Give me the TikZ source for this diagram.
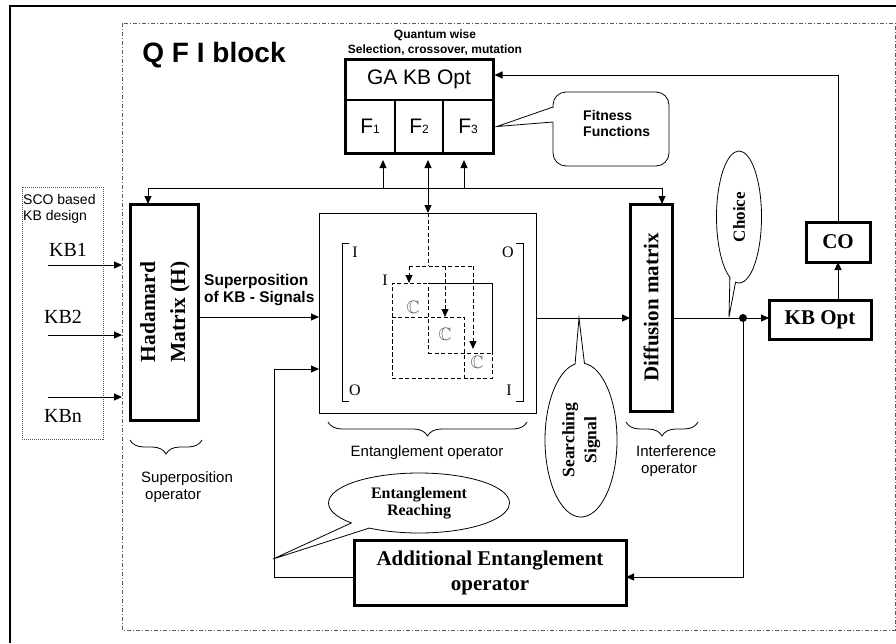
\documentclass[tikz,border=0pt]{standalone}
\usepackage{fontspec}
\setmainfont{Liberation Serif}
\setsansfont{Liberation Sans}
\usepackage{amssymb}
\usetikzlibrary{arrows.meta,shapes.callouts,decorations.pathreplacing,positioning}
\definecolor{cF}{rgb}{0.35,0.35,0.35}
\definecolor{cC}{rgb}{0.38,0.38,0.38}
\newcommand{\setfs}[2]{\fontsize{#1}{#2}\selectfont}
\tikzset{mytip/.tip={Triangle[length=8pt,width=7pt]}}
\tikzset{mybox/.style={
  shape=rectangle,
  draw=black,
  line width=3pt,
  inner sep=0pt,
  outer sep=0pt,
  font=\bfseries\setfs{21}{24},
  align=center,
  }
}
\tikzset{mycell/.style={
  shape=rectangle,
  draw=black,
  line width=1.2pt,
  inner sep=0pt,
  outer sep=0pt,
  font=\sffamily\setfs{21}{24},
  }
}
\tikzset{mycall/.style={
  shape=ellipse callout,
  draw=black,
  line width=0.8pt,
  inner sep=0pt,
  align=center,
  }
}
\tikzset{myarr/.style={
  draw=black,
  line width=1pt,
  -mytip,
  }
}
\tikzset{mydash/.style={
  draw=black,
  line width=1pt,
  dash pattern=on 4pt off 2.5pt,
  }
}
\tikzset{mylbl/.style={
  inner sep=0pt,
  font=\sffamily\setfs{15}{17},
  align=left,
  }
}
\tikzset{mymat/.style={
  inner sep=0pt,
  font=\setfs{16}{16},
  }
}
\tikzset{mybrace/.style={
  draw=black,
  line width=0.8pt,
  decorate,
  decoration={brace,amplitude=14pt},
  }
}
\begin{document}
\begin{tikzpicture}[x=1pt,y=-1pt]
  \useasboundingbox (0,0) rectangle (896,643);
  % frames
  \draw[line width=2pt] (10,643) -- (10,6) -- (896,6);
  \draw[cF, line width=1pt, dash pattern=on 4pt off 2pt on 1pt off 2pt] (122,23) rectangle (895,630);
  \draw[cF, line width=0.8pt, dash pattern=on 1pt off 1pt] (22,187) rectangle (103,439);

  \node[font=\sffamily\bfseries\setfs{28}{30}, inner sep=0pt] (title) at (214,55) {Q F I block};
  \node[font=\sffamily\bfseries\setfs{12}{15}, align=center, inner sep=0pt] (qw) at (435,43) {Quantum wise\\Selection, crossover, mutation};

  % GA block
  \node[mycell, minimum width=148pt, minimum height=41pt] (ga) at (419,79.5) {GA KB Opt};
  \node[mycell, minimum width=50pt, minimum height=53pt, anchor=north west] (f1) at (ga.south west) {F{\setfs{12}{12}1}};
  \node[mycell, minimum width=48pt, minimum height=53pt, anchor=north west] (f2) at (f1.north east) {F{\setfs{12}{12}2}};
  \node[mycell, minimum width=50pt, minimum height=53pt, anchor=north west] (f3) at (f2.north east) {F{\setfs{12}{12}3}};
  \draw[line width=3pt] (ga.north west) rectangle (f3.south east);

  \draw[line width=0.8pt, rounded corners=13pt] (553,92) rectangle (669,166);
  \fill[white] (552,107.5) rectangle (554.5,121.5);
  \draw[line width=0.8pt] (553,107) -- ([xshift=4pt]f3.east) -- (553,122);
  \node[font=\sffamily\bfseries\setfs{14}{16}, align=left, inner sep=0pt, anchor=west] (fit) at (583,123) {Fitness\\Functions};

  % inputs
  \node[font=\setfs{20}{22}, inner sep=0pt] (kb1) at (68,250) {KB1};
  \node[font=\setfs{20}{22}, inner sep=0pt] (kb2) at (63,317) {KB2};
  \node[font=\setfs{20}{22}, inner sep=0pt] (kbn) at (63,416) {KBn};
  \node[font=\sffamily\setfs{14}{16}, align=left, inner sep=0pt, anchor=north west] (sco) at (23,194) {SCO based\\KB design};
  \coordinate (k1a) at (48,265);
  \coordinate (k1b) at (122,265);
  \coordinate (k2a) at (48,335);
  \coordinate (k2b) at (122,335);
  \coordinate (kna) at (48,397);
  \coordinate (knb) at (122,397);
  \draw[myarr] (k1a) -- (k1b);
  \draw[myarr] (k2a) -- (k2b);
  \draw[myarr] (kna) -- (knb);

  % operators
  \node[mybox, minimum width=68pt, minimum height=216pt] (had) at (164,312) {\rotatebox{90}{\setfs{21.5}{30}\begin{tabular}{@{}c@{}}Hadamard\\Matrix (H)\end{tabular}}};
  \node[draw, line width=1pt, minimum width=217pt, minimum height=200pt, inner sep=0pt, outer sep=0pt] (ent) at (427.5,313) {};
  \node[mybox, minimum width=42pt, minimum height=207pt] (diff) at (651,307.5) {\rotatebox{90}{Diffusion matrix}};
  \node[mybox, minimum width=102pt, minimum height=39pt] (kbopt) at (820,319.5) {KB Opt};
  \node[mybox, minimum width=64pt, minimum height=40pt] (co) at (838,242) {CO};
  \node[mybox, minimum width=272pt, minimum height=65pt, font=\bfseries\setfs{21}{25}] (add) at (490,572.5) {Additional Entanglement\\operator};
  \node[circle, fill=black, inner sep=0pt, minimum size=8pt] (dot) at (743,318) {};

  % entanglement matrix
  \draw[line width=1pt] (349,243) -- (342,243) -- (342,401) -- (349,401);
  \draw[line width=1pt] (516,243) -- (523,243) -- (523,401) -- (516,401);
  \node[mymat] (m11) at (355,252) {I};
  \node[mymat] (m12) at (508,252) {O};
  \node[mymat] (m21) at (355,390) {O};
  \node[mymat] (m22) at (509,390) {I};
  \node[mymat] (mi) at (385,280) {I};
  \node[mydash, minimum width=100pt, minimum height=95pt, inner sep=0pt, outer sep=0pt] (cbig) at (442,330.5) {};
  \node[mydash, minimum width=64pt, minimum height=70pt, inner sep=0pt, outer sep=0pt] (cmid) at (460,318) {};
  \node[mydash, minimum width=72pt, minimum height=61pt, inner sep=0pt, outer sep=0pt] (clow) at (428,347.5) {};
  \node[mymat, text=cC, font=\setfs{18}{18}] (c1) at (413,307) {$\mathbb{C}$};
  \node[mymat, text=cC, font=\setfs{18}{18}] (c2) at (445,334) {$\mathbb{C}$};
  \node[mymat, text=cC, font=\setfs{18}{18}] (c3) at (477,362) {$\mathbb{C}$};

  % top bus
  \coordinate (busl) at (148,188);
  \coordinate (busr) at (662,188);
  \coordinate (u1) at (383,188);
  \coordinate (u2) at (428,188);
  \coordinate (u3) at (464,188);
  \draw[myarr] (busr) -- (busl) -- (busl |- had.north);
  \draw[myarr] (busr) -- (busr |- diff.north);
  \draw[myarr, shorten >=7pt] (u1) -- (u1 |- f1.south);
  \draw[myarr, shorten >=7pt] (u3) -- (u3 |- f3.south);
  \draw[myarr, mytip-mytip, shorten <=7pt] (u2 |- f2.south) -- (u2 |- ent.north);

  \coordinate (d0) at (428,266);
  \coordinate (d1) at (409,266);
  \coordinate (d2) at (445,266);
  \coordinate (d3) at (473,266);
  \draw[mydash] (u2 |- ent.north) -- (d0);
  \draw[mydash] (d1) -- (d3);
  \draw[mydash, -mytip] (d1) -- (d1 |- cbig.north);
  \draw[mydash, -mytip] (d2) -- (d2 |- clow.north);
  \draw[mydash, -mytip] (d3) -- ([yshift=4pt]d3 |- cmid.south);

  % signal path
  \coordinate (sup) at (200,317);
  \coordinate (sig) at (560,318);
  \coordinate (fb) at (274,369);
  \node[mylbl, font=\sffamily\bfseries\setfs{15.5}{17}, anchor=west] (suptxt) at (204,290) {Superposition\\of KB - Signals};
  \draw[myarr] (had.east |- sup) -- (ent.west |- sup);
  \draw[myarr] (ent.east |- sig) -- (diff.west |- sig);
  \draw[line width=1pt] (diff.east |- sig) -- (dot);
  \draw[myarr] (dot) -- (kbopt.west |- dot);
  \draw[myarr] (co.south |- kbopt.north) -- (co.south);
  \draw[myarr] (co.north) |- ([yshift=4.5pt, xshift=1.5pt]ga.east);
  \draw[myarr] (dot) |- ([yshift=-4.5pt]add.east);
  \draw[myarr] ([yshift=-4.5pt]add.west) -| (fb) -- (ent.west |- fb);

  % callouts
  \coordinate (chtip) at (729,317);
  \coordinate (sstip) at (579,318);
  \coordinate (ertip) at (273,559);
  \node[mycall, minimum width=45pt, minimum height=132pt, callout absolute pointer=(chtip)] (choice) at (739,217) {\rotatebox{90}{\bfseries\setfs{17}{20}Choice}};
  \node[mycall, minimum width=72pt, minimum height=154pt, callout absolute pointer=(sstip)] (srch) at (581,440) {\rotatebox{90}{\bfseries\setfs{17.5}{22}\begin{tabular}{@{}c@{}}Searching\\Signal\end{tabular}}};
  \node[mycall, minimum width=181pt, minimum height=60pt, font=\bfseries\setfs{16}{17}, callout absolute pointer=(ertip)] (reach) at (419,503) {Entanglement\\Reaching};

  % braces
  \draw[mybrace] (202,440) -- (130,440);
  \draw[mybrace] (527,422) -- (328,422);
  \draw[mybrace] (698,422) -- (626,422);
  \node[mylbl, anchor=west] (supop) at (141,487) {Superposition\\\hspace{4pt}operator};
  \node[mylbl] (entop) at (427,453) {Entanglement operator};
  \node[mylbl, anchor=west] (intop) at (636,461) {Interference\\\hspace{5pt}operator};
\end{tikzpicture}
\end{document}
